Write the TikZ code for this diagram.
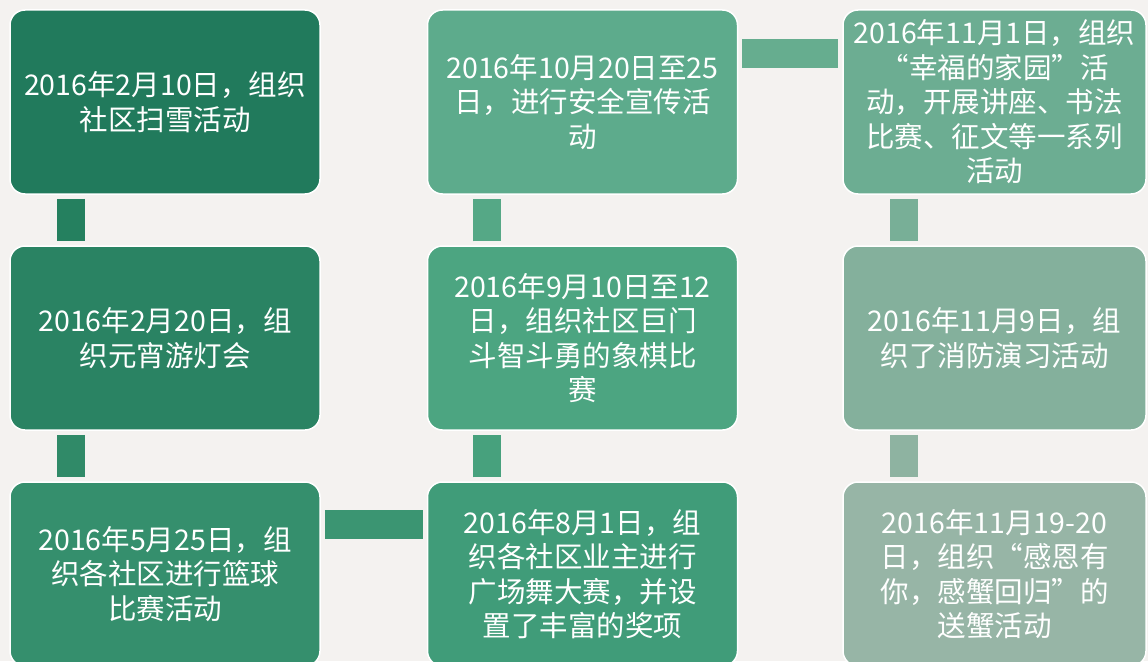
\documentclass[tikz,border=0pt]{standalone}
\usepackage{fontspec}
\setmainfont{Noto Sans CJK SC}
\usetikzlibrary{calc}
\definecolor{bg}{HTML}{F4F2F0}
\definecolor{cA}{HTML}{217A5C}
\definecolor{cB}{HTML}{2A8363}
\definecolor{cC}{HTML}{358F6D}
\definecolor{cD}{HTML}{409C79}
\definecolor{cE}{HTML}{4CA581}
\definecolor{cF}{HTML}{5DAB8C}
\definecolor{cG}{HTML}{6CAD92}
\definecolor{cH}{HTML}{84B09C}
\definecolor{cI}{HTML}{97B5A6}
\definecolor{kA}{HTML}{25805F}
\definecolor{kB}{HTML}{308A68}
\definecolor{kC}{HTML}{3B9572}
\definecolor{kD}{HTML}{47A17D}
\definecolor{kE}{HTML}{55A886}
\definecolor{kF}{HTML}{66AD8F}
\definecolor{kG}{HTML}{78AF97}
\definecolor{kH}{HTML}{8EB3A1}
\tikzset{
  box/.style={draw=white, line width=1.5pt, rounded corners=15pt, text=white,
    align=center, inner sep=0pt, font=\fontsize{28.5}{34.5}\selectfont},
  wbox/.style={box, minimum width=310pt, minimum height=184pt},
  nbox/.style={box, minimum width=303pt, minimum height=184pt},
  vconn/.style={line width=28pt},
  hconn/.style={line width=29pt},
}
\begin{document}
\begin{tikzpicture}[x=1pt,y=1pt]
\fill[bg] (0,0) rectangle (1148,-661);
\useasboundingbox (0,0) rectangle (1148,-661);
% column 1
\node[wbox, fill=cA] (b1) at (165,-102) {2016年2月10日，组织\\社区扫雪活动};
\node[wbox, fill=cB] (b2) at (165,-338) {2016年2月20日，组\\织元宵游灯会};
\node[wbox, fill=cC] (b3) at (165,-574) {2016年5月25日，组\\织各社区进行篮球\\比赛活动};
% column 2
\node[wbox, fill=cD] (b4) at (582.5,-574) {2016年8月1日，组\\织各社区业主进行\\广场舞大赛，并设\\置了丰富的奖项};
\node[wbox, fill=cE] (b5) at (582.5,-338) {2016年9月10日至12\\日，组织社区巨门\\斗智斗勇的象棋比\\赛};
\node[wbox, fill=cF] (b6) at (582.5,-102) {2016年10月20日至25\\日，进行安全宣传活\\动};
% column 3
\node[nbox, fill=cG] (b7) at (994.5,-102) {2016年11月1日，组织\\“幸福的家园”活\\动，开展讲座、书法\\比赛、征文等一系列\\活动};
\node[nbox, fill=cH] (b8) at (994.5,-338) {2016年11月9日，组\\织了消防演习活动};
\node[nbox, fill=cI] (b9) at (994.5,-574) {2016年11月19-20\\日，组织“感恩有\\你，感蟹回归”的\\送蟹活动};
% connectors
\draw[vconn, kA] ($(b1.south west)+(61.5,-4)$) -- ($(b2.north west)+(61.5,4)$);
\draw[vconn, kB] ($(b2.south west)+(61.5,-4)$) -- ($(b3.north west)+(61.5,4)$);
\draw[hconn, kC] ($(b3.north east)+(4,-43.5)$) -- ($(b4.north west)+(-4,-43.5)$);
\draw[vconn, kD] ($(b4.north west)+(60.5,4)$) -- ($(b5.south west)+(60.5,-4)$);
\draw[vconn, kE] ($(b5.north west)+(60.5,4)$) -- ($(b6.south west)+(60.5,-4)$);
\draw[hconn, kF] ($(b6.north east)+(4,-44.5)$) -- ($(b7.north west)+(-4,-44.5)$);
\draw[vconn, kG] ($(b7.south west)+(61.5,-4)$) -- ($(b8.north west)+(61.5,4)$);
\draw[vconn, kH] ($(b8.south west)+(61.5,-4)$) -- ($(b9.north west)+(61.5,4)$);
\end{tikzpicture}
\end{document}
